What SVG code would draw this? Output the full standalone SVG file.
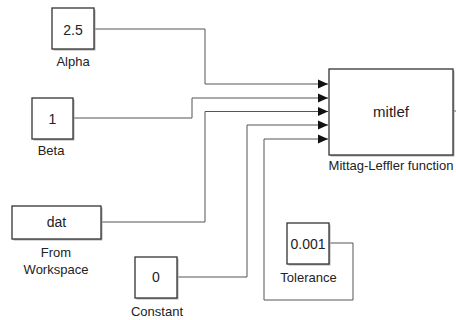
<svg xmlns="http://www.w3.org/2000/svg" width="456" height="320" viewBox="0 0 456 320">
<style>
.blk{fill:#fff;stroke:#333;stroke-width:1.3}
.shd{fill:#b0b0b0;stroke:none}
.t{font-family:"Liberation Sans",Arial,sans-serif;fill:#222;text-anchor:middle}
.lbl{font-size:13px}
.val{font-size:14px}
.ln{fill:none;stroke:#555;stroke-width:1}
</style>
<defs>
<marker id="ah" markerUnits="userSpaceOnUse" markerWidth="10" markerHeight="10" refX="10" refY="5" orient="auto">
<path d="M0,0.5 L10,5 L0,9.5 Z" fill="#111"/>
</marker>
</defs>
<g id="connectors">
<path class="ln" d="M94,29 H205 V84 H328" marker-end="url(#ah)"/>
<path class="ln" d="M73,118 H192 V98 H328" marker-end="url(#ah)"/>
<path class="ln" d="M101,222 H205 V111.5 H328" marker-end="url(#ah)"/>
<path class="ln" d="M177,277 H247 V125 H328" marker-end="url(#ah)"/>
<path class="ln" d="M329,243 H353 V300 H264 V139 H328" marker-end="url(#ah)"/>
<path class="ln" d="M453,111 H456"/>
</g>
<g id="alpha">
<rect class="shd" x="53.5" y="9.5" width="42" height="41"/>
<rect class="blk" x="52" y="8" width="42" height="41"/>
<text class="t val" x="73" y="35">2.5</text>
<text class="t lbl" x="73" y="66">Alpha</text>
</g>
<g id="beta">
<rect class="shd" x="33.5" y="99.5" width="41" height="41"/>
<rect class="blk" x="32" y="98" width="41" height="41"/>
<text class="t val" x="52.5" y="124">1</text>
<text class="t lbl" x="51" y="155">Beta</text>
</g>
<g id="fromws">
<rect class="shd" x="13.5" y="207.5" width="89" height="33"/>
<rect class="blk" x="12" y="206" width="89" height="33"/>
<text class="t val" x="56.5" y="227">dat</text>
<text class="t lbl" x="56" y="257">From</text>
<text class="t lbl" x="56" y="274">Workspace</text>
</g>
<g id="constant">
<rect class="shd" x="136.5" y="258.5" width="42" height="41"/>
<rect class="blk" x="135" y="257" width="42" height="41"/>
<text class="t val" x="156" y="282">0</text>
<text class="t lbl" x="157" y="316">Constant</text>
</g>
<g id="tolerance">
<rect class="shd" x="288.5" y="224.5" width="42" height="41"/>
<rect class="blk" x="287" y="223" width="42" height="41"/>
<text class="t val" x="308" y="249">0.001</text>
<text class="t lbl" x="308.5" y="282">Tolerance</text>
</g>
<g id="mitlef">
<rect class="shd" x="330.5" y="70.5" width="124" height="86"/>
<rect class="blk" x="329" y="69" width="124" height="86"/>
<text class="t" style="font-size:15px" x="391" y="117">mitlef</text>
<text class="t lbl" x="391" y="170">Mittag-Leffler function</text>
</g>
</svg>
